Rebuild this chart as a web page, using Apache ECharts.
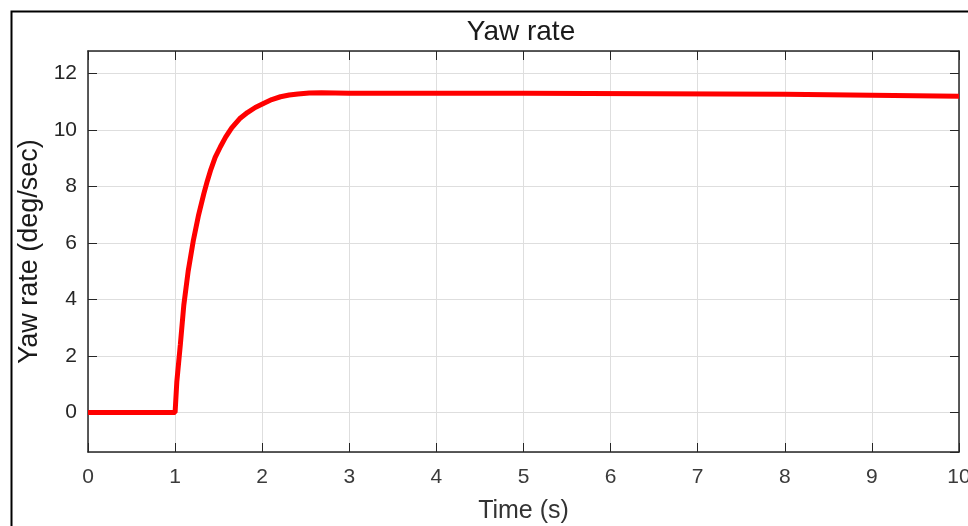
<!DOCTYPE html>
<html>
<head>
<meta charset="utf-8">
<script src="https://cdn.jsdelivr.net/npm/echarts@6/dist/echarts.min.js"></script>
<style>
  html, body { margin: 0; padding: 0; background: #fff; }
  #chart { width: 968px; height: 526px; }
</style>
</head>
<body>
<div id="chart"></div>
<script>
// step response
let time    = [0, 1.0, 1.02, 1.06, 1.1, 1.15, 1.21, 1.27, 1.33, 1.37, 1.41, 1.46, 1.52, 1.58, 1.65, 1.74, 1.83, 1.92, 2.02, 2.11, 2.21, 2.31, 2.41, 2.54, 2.68, 3.0, 5.0, 5.0, 8.0, 8.0, 10];
let yawRate = [0, 0, 1.1, 2.4, 3.8, 5.0, 6.1, 7.0, 7.75, 8.2, 8.6, 9.03, 9.41, 9.75, 10.08, 10.4, 10.62, 10.8, 10.95, 11.08, 11.18, 11.24, 11.28, 11.31, 11.32, 11.3, 11.3, 11.27, 11.27, 11.21, 11.2];

let data = time.map(function (t, i) {
    return [t, yawRate[i]];
});

let font = 'Liberation Sans, Arial, sans-serif';
let axisColor = '#262626';
let gridColor = '#dedede';

let chart = echarts.init(document.getElementById('chart'));

let option = {
    animation: false,
    backgroundColor: '#fff',
    title: {
        text: 'Yaw rate',
        left: 516,
        top: 13,
        textAlign: 'center',
        textStyle: { fontFamily: font, fontSize: 28, fontWeight: 'normal', color: '#1a1a1a' }
    },
    graphic: [{
        type: 'rect',
        left: 9, top: 9,
        shape: { width: 1000, height: 600 },
        style: { fill: 'none', stroke: '#000', lineWidth: 2 },
        silent: true
    }],
    grid: { left: 88, right: 9, top: 51, bottom: 74, outerBoundsMode: 'none' },
    xAxis: [{
        type: 'value',
        min: 0, max: 10, interval: 1,
        name: 'Time (s)',
        nameLocation: 'middle',
        nameGap: 47,
        nameTextStyle: { fontFamily: font, fontSize: 25, color: '#333' },
        axisLine: { onZero: false, lineStyle: { color: axisColor, width: 1.5 } },
        axisTick: { inside: true, length: 9, lineStyle: { color: axisColor } },
        axisLabel: { margin: 15, fontFamily: font, fontSize: 21, color: '#3a3a3a' },
        splitLine: { show: true, lineStyle: { color: gridColor, width: 1 } }
    }, {
        type: 'value',
        position: 'top',
        min: 0, max: 10, interval: 1,
        axisLine: { show: true, onZero: false, lineStyle: { color: axisColor, width: 1.5 } },
        axisTick: { show: true, inside: true, length: 9, lineStyle: { color: axisColor } },
        axisLabel: { show: false },
        splitLine: { show: false }
    }],
    yAxis: [{
        type: 'value',
        min: -1.4, max: 12.8, splitNumber: 7,
        name: 'Yaw rate (deg/sec)',
        nameLocation: 'middle',
        nameGap: 42,
        nameTextStyle: { fontFamily: font, fontSize: 27, color: '#1a1a1a' },
        axisLine: { show: true, onZero: false, lineStyle: { color: axisColor, width: 1.5 } },
        axisTick: { show: true, inside: true, length: 9, lineStyle: { color: axisColor } },
        axisLabel: { margin: 11, fontFamily: font, fontSize: 21, color: '#262626', showMinLabel: false, showMaxLabel: false },
        splitLine: { show: true, lineStyle: { color: gridColor, width: 1 } }
    }, {
        type: 'value',
        position: 'right',
        min: -1.4, max: 12.8, splitNumber: 7,
        axisLine: { show: true, onZero: false, lineStyle: { color: axisColor, width: 1.5 } },
        axisTick: { show: true, inside: true, length: 9, lineStyle: { color: axisColor } },
        axisLabel: { show: false },
        splitLine: { show: false }
    }],
    series: [{
        name: 'Yaw rate',
        type: 'line',
        data: data,
        showSymbol: false,
        smooth: false,
        lineStyle: { color: '#ff0000', width: 5 },
        z: 3
    }]
};

chart.setOption(option);
</script>
</body>
</html>
